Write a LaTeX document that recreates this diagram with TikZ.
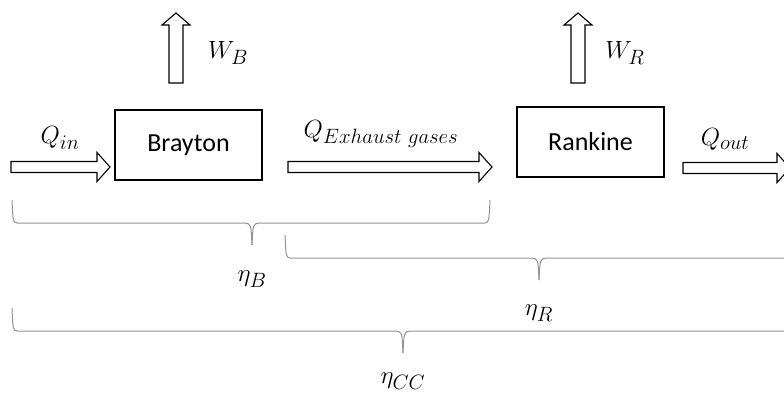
\documentclass[tikz,border=0pt]{standalone}
\usepackage{fontspec}
\setmainfont{Carlito}
\usepackage{amsmath}
\usepackage{tikz}

\begin{document}
\begin{tikzpicture}[x=1pt, y=-1pt,
    % Define styles for the cycle boxes, the hollow arrows and the braces
    cycle/.style={draw=black, line width=1.1pt, minimum width=147pt, minimum height=70pt, font=\fontsize{26}{31}\selectfont},
    hollow/.style={draw=black, line width=1.1pt, fill=white, line join=miter},
    brace/.style={draw=gray!85, line width=1pt},
    lbl/.style={font=\fontsize{29}{34}\selectfont, inner sep=0pt}
]
    \clip (0,0) rectangle (784,394);

    % The two cycles
    \node[cycle] (brayton) at (188.5,145) {Brayton};
    \node[cycle] (rankine) at (590.5,142) {Rankine};

    % Horizontal heat arrows: start / tip / centre line
    \foreach \xa/\xb/\yc in {11/110/167, 288/492/167, 683/790/168} {
        \draw[hollow] (\xa,\yc-5.5) -- (\xb-13,\yc-5.5) -- (\xb-13,\yc-14.5) -- (\xb,\yc)
            -- (\xb-13,\yc+14.5) -- (\xb-13,\yc+5.5) -- (\xa,\yc+5.5) -- cycle;
    }

    % Vertical work arrows: centre / foot / tip
    \foreach \xc in {176, 578} {
        \draw[hollow] (\xc-7,83) -- (\xc-7,25) -- (\xc-14,25) -- (\xc,13)
            -- (\xc+14,25) -- (\xc+7,25) -- (\xc+7,83) -- cycle;
    }

    % Labels of heat and work
    \node[lbl] (qin) at (60,138) {$Q_{in}$};
    \node[lbl] (qex) at (381,134) {$Q_{Exhaust\ gases}$};
    \node[lbl] (qout) at (725,139) {$Q_{out}$};
    \node[lbl] (wb) at (228,53) {$W_B$};
    \node[lbl] (wr) at (625,53) {$W_R$};

    % Braces: left end / right end / middle / top, then the efficiency under each
    \foreach \xa/\xb/\xm/\yt/\name/\dy in {12/490/252/200/B/79, 285/800/539/235/R/78, 12/800/403/308/CC/73} {
        \draw[brace] (\xa,\yt) .. controls (\xa+1,\yt+22) .. (\xa+5,\yt+23)
            -- (\xm-7,\yt+23) .. controls (\xm-1,\yt+24) .. (\xm,\yt+45);
        \draw[brace] (\xb,\yt) .. controls (\xb-1,\yt+22) .. (\xb-5,\yt+23)
            -- (\xm+7,\yt+23) .. controls (\xm+1,\yt+24) .. (\xm,\yt+45);
        \node[lbl] (eta\name) at (\xm,\yt+\dy) {$\eta_{\name}$};
    }

\end{tikzpicture}
\end{document}
